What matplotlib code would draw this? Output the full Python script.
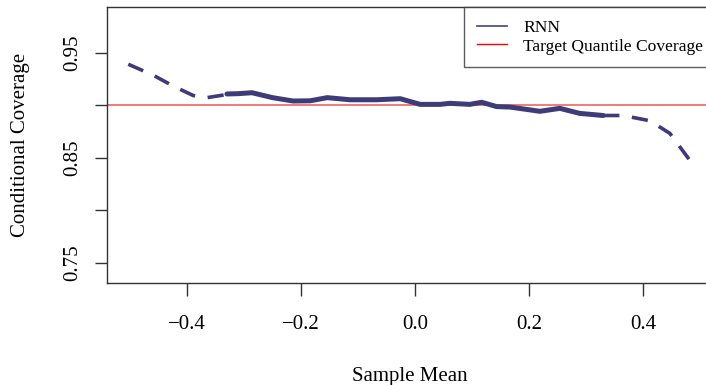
import numpy as np
import matplotlib.pyplot as plt

plt.rcParams['font.family'] = ['Liberation Serif', 'DejaVu Serif']

# left tail (dashed)
x_left = [-0.503, -0.46, -0.424, -0.389, -0.365, -0.33]
y_left = [0.9388, 0.9286, 0.918, 0.909, 0.907, 0.910]
# central part (solid)
x_mid = [-0.33, -0.31, -0.286, -0.25, -0.214, -0.184, -0.154, -0.114, -0.067, -0.026,
         0.009, 0.044, 0.061, 0.096, 0.117, 0.143, 0.167, 0.219, 0.254, 0.289, 0.33]
y_mid = [0.9105, 0.9108, 0.9117, 0.907, 0.9038, 0.904, 0.907, 0.905, 0.905, 0.906,
         0.9006, 0.9006, 0.9016, 0.9006, 0.9026, 0.8985, 0.898, 0.894, 0.8968, 0.892, 0.890]
# right tail (dashed)
x_right = [0.33, 0.365, 0.412, 0.447, 0.488]
y_right = [0.890, 0.890, 0.885, 0.873, 0.843]
target = 0.90

navy = '#3e3c78'

fig = plt.figure(figsize=(7.06, 3.85), dpi=100)
ax = fig.add_axes([107/706, 1-283/385, 1-107/706 + 0.01, 276/385])

ax.axhline(target, color='#f06464', lw=1.2, zorder=1)
ax.plot(x_left, y_left, color=navy, lw=2.6, ls=(0, (4.5, 3.5)), zorder=2)
ax.plot(x_right, y_right, color=navy, lw=2.6, ls=(0, (4.5, 3.5)), zorder=2)
ax.plot(x_mid, y_mid, color=navy, lw=3.6, solid_capstyle='round',
        solid_joinstyle='round', zorder=3)

ax.set_xlim((107-415)/570, (713-415)/570)
ax.set_ylim(0.90-178/1050, 0.90+98/1050)

ax.set_xticks([-0.4, -0.2, 0.0, 0.2, 0.4])
ax.set_xticklabels(['\u22120.4', '\u22120.2', '0.0', '0.2', '0.4'])
ax.set_yticks([0.75, 0.80, 0.85, 0.90, 0.95])
ax.set_yticklabels(['0.75', '', '0.85', '', '0.95'], rotation=90, va='center')
ax.tick_params(axis='both', labelsize=15, length=9, width=1, color='#333333', pad=8)
ax.tick_params(axis='x', pad=14)
ax.tick_params(axis='y', pad=9)
for s in ax.spines.values():
    s.set_linewidth(1)
    s.set_color('#333333')

ax.set_xlabel('Sample Mean', fontsize=15, labelpad=24)
ax.set_ylabel('Conditional Coverage', fontsize=15, labelpad=24)

h1, = ax.plot([], [], color='#54518a', lw=1.3)
h2, = ax.plot([], [], color='red', lw=1)
leg = fig.legend([h1, h2], ['RNN', 'Target Quantile Coverage'], loc='upper left',
                 bbox_to_anchor=(464/706, 1-7/385),
                 fontsize=12.6, frameon=True, fancybox=False, edgecolor='#333333',
                 borderaxespad=0, handlelength=1.75, handletextpad=0.9,
                 labelspacing=0.14, borderpad=0.72)
leg.get_frame().set_linewidth(1)

fig.savefig('out.png', dpi=100)
